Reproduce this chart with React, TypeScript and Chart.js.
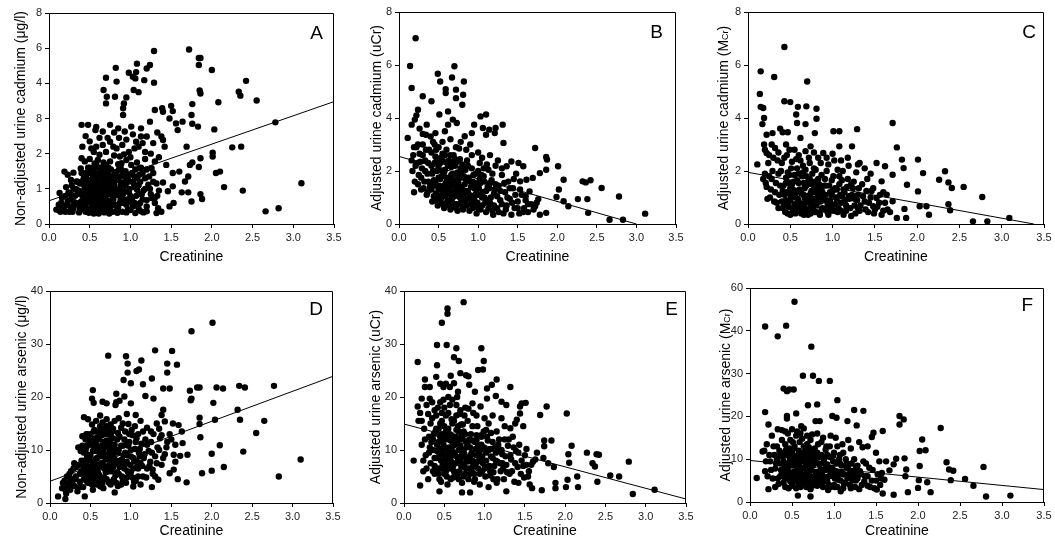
import React, { useEffect, useRef } from "react";
import { Chart, registerables } from "chart.js";
Chart.register(...registerables);

const FONT = '"Liberation Sans", Arial, Helvetica, sans-serif';

// ---------- shared axis data ----------
const xTickStep = 0.5;
const xMax = 3.5;
const xTitle = "Creatinine";

// y tick labels exactly as printed in the figure (evenly spaced positions)
const yLabelsA = ["0", "1", "2", "8", "4", "6", "8"];
const yLabelsF = ["0", "10", "20", "30", "40", "60"];

// ---------- panel A: non-adjusted urine cadmium (axis position units) ----------
const pointsA: number[][] = [
  [1.29,4.92],[1.72,4.96],[1.84,4.72],[1.86,4.72],[1.84,4.52],[2.0,4.38],[0.82,4.44],[1.08,4.56],[0.98,4.3],[1.07,4.32],
  [1.2,4.42],[1.24,4.52],[0.7,4.16],[0.83,4.05],[1.29,4.02],[1.17,4.09],[1.03,4.19],[1.06,4.14],[0.67,3.81],[0.71,3.62],
  [0.7,3.43],[0.81,3.62],[0.95,3.6],[0.92,3.43],[0.91,3.29],[0.91,3.1],[1.04,3.81],[1.1,3.75],[1.85,3.8],[1.86,3.71],
  [1.76,3.41],[2.08,3.46],[2.33,3.76],[2.35,3.65],[2.42,4.07],[2.55,3.51],[1.3,3.24],[1.39,3.29],[1.4,3.19],[1.5,3.36],
  [1.52,3.21],[1.48,3.0],[1.64,2.91],[1.56,2.86],[1.58,2.67],[1.75,3.1],[1.76,2.85],[1.83,2.77],[2.03,2.69],[2.78,2.89],
  [1.38,2.49],[1.4,2.39],[1.42,2.2],[1.69,2.2],[2.01,2.03],[2.01,1.92],[2.25,2.18],[2.36,2.2],[1.86,1.87],[1.76,1.75],
  [1.84,1.62],[2.05,1.45],[2.1,1.49],[2.15,1.05],[2.38,0.95],[1.86,0.85],[1.88,0.71],[2.66,0.36],[2.82,0.45],[3.1,1.16],
  [1.75,0.64],[1.71,0.9],[1.63,0.9],[1.53,0.6],[1.48,0.5],[1.34,0.45],[1.32,0.31],[1.2,0.36],[1.13,0.36],[1.71,1.35],
  [1.6,1.49],[1.52,1.45],[1.52,1.07],[1.46,0.93],[1.4,1.18],[1.44,1.68],[1.3,1.78],[1.26,1.59],[1.23,1.35],[1.22,1.12],
  [1.26,0.74],[1.67,1.21],[1.73,1.68],
  [0.4,2.82],[0.48,2.82],[0.57,2.67],[0.58,2.76],[0.75,2.82],[0.66,2.63],[0.85,2.72],[0.93,2.63],[1.01,2.77],[1.13,2.72],
  [1.24,2.91],[1.2,2.49],[1.13,2.49],[1.07,2.34],[1.1,2.2],[1.05,2.15],[0.75,2.34],[0.79,2.2],[0.83,2.15],[0.87,1.92],
  [0.89,1.73],[0.58,2.2],[0.52,2.15],[0.41,2.2],[0.4,1.87],[0.62,1.97],[0.7,1.68],[0.95,1.82],[1.01,1.68],[1.11,1.59],
  [1.15,1.45],[1.05,1.35],[0.97,1.26],[0.19,1.49],[0.3,1.46],[0.13,0.88],[0.09,0.41],[0.17,0.5],[0.34,1.21],[0.38,0.5],
  [0.12,0.4],[0.15,0.6],[0.18,0.45],[0.2,0.8],[0.22,0.55],[0.25,0.35],[0.27,0.7],[0.3,0.45],[0.3,1.0],[0.33,0.6],
  [0.35,0.85],[0.35,1.2],[0.38,0.4],[0.4,0.65],[0.4,1.45],[0.42,0.9],[0.43,1.1],[0.45,0.5],[0.45,0.35],[0.46,1.3],
  [0.47,0.75],[0.48,1.6],[0.5,0.95],[0.5,0.4],[0.52,1.15],[0.52,0.6],[0.54,1.4],[0.55,0.8],[0.55,0.3],[0.57,1.0],
  [0.58,1.7],[0.58,0.5],[0.6,1.25],[0.6,0.7],[0.62,0.35],[0.63,0.9],[0.64,1.5],[0.65,1.1],[0.66,0.55],[0.68,0.75],
  [0.7,1.3],[0.7,0.4],[0.72,0.95],[0.73,1.6],[0.75,0.6],[0.76,1.15],[0.78,0.35],[0.8,0.8],[0.8,1.4],[0.82,1.0],
  [0.85,0.5],[0.85,1.25],[0.88,0.7],[0.9,1.5],[0.9,0.35],[0.92,0.95],[0.95,0.55],[0.97,1.2],[1.0,0.8],[1.0,0.4],
  [1.02,1.45],[1.05,0.6],[1.05,1.05],[1.08,1.3],[1.1,0.45],[1.1,0.85],[1.13,1.6],[1.15,0.7],[1.18,1.0],[1.2,0.5],
  [1.25,0.85],[1.28,1.2],[1.3,0.6],[1.35,0.95],[1.38,0.35],
  [0.42,0.55],[0.44,1.0],[0.46,0.45],[0.48,1.25],[0.5,0.7],[0.51,1.5],[0.53,0.85],[0.55,1.05],[0.56,0.45],[0.57,1.35],
  [0.59,0.6],[0.61,0.95],[0.62,1.6],[0.63,0.4],[0.65,0.8],[0.67,1.2],[0.69,0.5],[0.71,1.05],[0.74,0.85],[0.77,1.3],
  [0.79,0.55],[0.83,0.95],[0.86,1.55],[0.89,0.8],[0.93,1.35],[0.96,0.7],[0.99,1.0],[1.03,0.5],[1.07,0.8],[1.12,1.2],
  [1.16,0.95],[0.36,0.55],[0.32,0.8],[0.28,1.1],[0.24,0.9],[0.2,0.35],[0.26,0.5]
];
const pointsADense: number[][] = [
  [0.37,0.33],[0.49,0.32],[0.61,0.3],[0.68,0.33],[0.74,0.3],[0.84,0.32],[0.95,0.33],[1.06,0.31],[1.16,0.33],
  [0.39,0.62],[0.44,0.7],[0.53,0.66],[0.6,0.62],[0.64,0.72],[0.71,0.68],[0.78,0.72],[0.87,0.6],[0.93,0.68],[1.01,0.62],
  [1.12,0.6],[1.2,0.68],[1.3,0.75],
  [0.37,0.95],[0.41,0.8],[0.47,0.92],[0.51,0.82],[0.56,0.92],[0.6,0.85],[0.66,0.95],[0.7,0.82],[0.77,0.98],[0.81,0.88],
  [0.87,0.98],[0.91,0.85],[0.98,0.9],[1.08,0.98],[1.14,0.85],[1.24,1.0],[1.33,0.8],
  [0.38,1.15],[0.42,1.25],[0.47,1.1],[0.53,1.28],[0.59,1.12],[0.63,1.3],[0.69,1.15],[0.74,1.25],[0.8,1.12],[0.84,1.35],
  [0.9,1.18],[0.95,1.3],[1.03,1.2],[1.1,1.1],[1.18,1.3],[1.32,1.15],
  [0.39,1.58],[0.45,1.45],[0.5,1.6],[0.56,1.48],[0.61,1.42],[0.66,1.62],[0.72,1.45],[0.76,1.55],[0.82,1.48],[0.88,1.6],
  [0.94,1.5],[1.06,1.55],[1.2,1.55],[1.28,1.45],
  [0.44,1.78],[0.5,1.85],[0.56,1.72],[0.6,1.82],[0.67,1.75],[0.75,1.78],[0.8,1.95],[0.85,1.7],[0.92,1.98],[1.0,1.9],
  [1.08,1.75],[1.18,1.85],[1.25,2.0],[1.35,1.9],
  [0.45,2.5],[0.5,2.35],[0.55,2.05],[0.62,2.45],[0.66,2.25],[0.7,2.05],[0.72,2.45],[0.8,2.6],[0.86,2.45],[0.9,2.25],
  [0.95,2.4],[0.98,2.05],[1.03,2.55],[1.15,2.3],[1.18,2.05],[1.28,2.3],[1.33,2.6],
  [0.14,0.35],[0.16,0.75],[0.21,1.05],[0.23,0.65],[0.26,0.85],[0.29,0.35],[0.31,0.62],[0.33,1.0],[0.27,1.25],[0.23,1.4],
  [0.12,0.55]
];
const pointsACore: number[][] = [
  [0.41,0.42],[0.43,1.35],[0.46,0.62],[0.49,1.05],[0.51,0.35],[0.54,0.72],[0.56,1.58],[0.58,0.88],[0.59,1.2],[0.62,0.5],
  [0.64,1.02],[0.66,1.38],[0.68,0.62],[0.71,0.9],[0.73,1.4],[0.75,0.45],[0.77,1.08],[0.79,0.7],[0.82,1.25],[0.84,0.45],
  [0.86,0.82],[0.88,1.1],[0.91,0.6],[0.94,1.1],[0.97,0.42],[0.99,1.4],[1.02,0.72],[1.04,1.15],[1.08,0.55],[1.11,1.4],
  [0.45,0.85],[0.53,0.48],[0.63,0.62],[0.72,0.35],[0.81,0.55],[0.57,0.78],[0.67,1.52],[0.76,0.98],[0.48,1.45],[0.87,1.35]
];
const lineA: number[][] = [[0, 0.66], [3.5, 3.48]];

// ---------- panel B: adjusted urine cadmium (uCr) ----------
const pointsB: number[][] = [
  [0.21,7.01],[0.14,5.96],[0.16,5.13],[0.3,4.82],[0.41,4.63],[0.49,5.67],[0.52,5.38],[0.59,5.09],[0.59,4.94],[0.7,5.95],
  [0.67,5.53],[0.72,5.07],[0.72,4.75],[0.82,5.38],[0.81,4.88],[0.8,4.5],[0.11,3.25],[0.16,3.75],[0.2,3.94],[0.24,4.31],
  [0.22,4.1],[0.35,3.75],[0.34,3.37],[0.46,3.43],[0.51,4.13],[0.62,4.25],[0.62,3.75],[0.68,3.94],[0.73,3.81],[0.83,3.31],
  [0.92,3.43],[0.95,3.75],[1.03,4.06],[1.1,4.13],[1.06,3.62],[1.14,3.56],[1.22,3.62],[1.31,3.75],[1.32,3.06],[1.1,3.37],
  [1.21,3.43],[1.72,2.87],[1.86,2.53],[1.87,2.43],[2.01,2.18],[2.08,1.67],[2.02,1.3],[1.86,2.05],[2.32,1.61],[2.36,1.57],
  [2.42,1.65],[2.56,1.36],[2.78,1.04],[3.11,0.39],[2.66,0.16],[2.83,0.16],[2.38,0.94],[2.39,0.42],[2.26,0.94],[2.14,0.67],
  [2.08,0.86],[1.99,1.02],[1.86,0.42],[1.76,0.94],[1.72,0.67],[1.78,0.35],[1.65,1.23],[1.78,1.92],[1.69,1.74],[1.57,2.18],
  [1.51,2.3],[1.42,2.36],[1.36,2.18],[1.61,1.67],[1.53,1.61],
  [0.17,2.0],[0.18,2.6],[0.2,1.6],[0.22,2.9],[0.23,2.3],[0.25,1.85],[0.26,2.65],[0.28,1.3],[0.29,2.1],[0.3,3.0],
  [0.32,1.6],[0.33,2.4],[0.35,1.1],[0.36,1.9],[0.38,2.8],[0.39,1.4],
  [0.41,2.2],[0.42,0.85],[0.43,3.1],[0.44,1.65],[0.46,2.55],[0.47,1.15],[0.48,2.0],[0.49,0.7],[0.5,2.9],[0.51,1.45],
  [0.52,2.3],[0.53,0.95],[0.54,1.8],[0.55,2.65],[0.56,1.2],[0.57,0.6],[0.58,2.05],[0.59,1.55],[0.6,2.8],[0.61,0.85],
  [0.62,1.35],[0.63,2.4],[0.64,1.75],[0.65,0.55],[0.66,2.15],[0.67,1.05],[0.68,1.6],[0.69,2.6],[0.7,0.75],[0.71,1.9],
  [0.72,1.3],[0.73,2.35],[0.74,0.5],[0.75,1.55],[0.76,2.85],[0.77,1.0],[0.78,2.1],[0.79,1.4],[0.8,0.65],
  [0.82,1.8],[0.84,0.9],[0.86,2.4],[0.87,1.25],[0.89,0.5],[0.9,1.6],[0.92,2.1],[0.94,0.75],[0.95,1.35],[0.97,1.9],
  [0.98,0.4],[1.0,1.1],[1.02,2.3],[1.03,1.55],[1.05,0.7],[1.07,1.8],[1.08,1.0],[1.1,0.45],[1.12,1.4],[1.13,2.05],
  [1.15,0.8],[1.17,1.65],[1.19,0.35],[1.2,1.15],[1.22,2.2],[1.24,0.6],[1.26,1.45],[1.28,0.9],[1.3,1.85],[1.32,0.4],
  [1.34,1.2],[1.36,0.7],[1.38,1.6],[1.4,0.95],[1.42,0.35],[1.44,1.35],[1.46,0.6],[1.48,1.9],[1.5,0.85],[1.52,0.4],
  [1.55,1.1],[1.58,0.6],[1.6,0.9],[1.63,0.45],[1.67,0.75]
];
const pointsBDense: number[][] = [
  [0.36,1.2],[0.37,2.3],[0.4,1.5],[0.41,2.7],[0.42,1.9],[0.44,1.05],[0.45,2.3],[0.46,1.6],[0.47,2.8],[0.48,0.9],
  [0.5,1.3],[0.5,2.15],[0.52,1.7],[0.53,2.5],[0.54,1.1],[0.55,2.0],[0.56,0.75],[0.57,1.45],[0.58,2.35],[0.6,1.15],
  [0.6,1.75],[0.62,2.2],[0.63,0.7],[0.64,1.35],[0.65,2.6],[0.66,1.85],[0.67,0.95],[0.68,2.35],[0.69,1.2],[0.7,1.65],
  [0.71,2.2],[0.72,0.6],[0.73,1.45],[0.74,1.95],[0.76,1.2],[0.77,2.45],[0.78,0.8],[0.79,1.75],[0.8,2.25],[0.81,1.05],
  [0.83,1.5],[0.84,2.05],[0.85,0.7],[0.86,1.2],[0.88,1.75],[0.89,0.95],[0.91,1.4],[0.92,2.6],[0.93,0.6],[0.94,1.85],
  [0.96,1.1],[0.97,1.55],[0.99,0.8],[1.0,2.0],[1.01,1.35],[1.03,0.55],[1.04,1.85],[1.06,1.2],[1.08,1.6],[1.09,0.8],
  [1.11,2.25],[1.13,0.6],[1.14,1.35],[1.16,1.0],[1.18,1.9],[1.2,0.7],[1.22,1.5],[1.24,1.05],[1.26,0.45],[1.28,1.25],
  [1.3,0.75],[1.33,1.55],[1.35,0.55],[1.37,1.0],[1.4,1.35],[1.43,0.8],[1.45,1.7],[1.47,1.1],[1.5,0.6],[1.53,1.3],
  [1.57,0.45],[1.6,1.05],[1.63,0.75],[1.7,0.55],[1.74,0.8],
  [0.19,1.2],[0.21,2.2],[0.24,1.5],[0.24,3.0],[0.27,2.35],[0.28,1.75],[0.3,2.6],[0.31,1.35],[0.33,2.0],[0.34,2.8],
  [0.37,1.6],[0.19,2.9],[0.16,2.4],[0.26,3.6],[0.3,3.4],[0.4,3.3],[0.45,3.0],[0.55,3.1],[0.58,3.5],[0.65,3.2],
  [0.72,2.9],[0.78,3.1],[0.85,2.8],[0.9,3.0],[1.0,2.7],[1.05,2.5],[1.15,2.6],[1.25,2.4],[1.3,2.1]
];
const pointsBCore: number[][] = [
  [0.41,1.3],[0.43,2.0],[0.45,1.45],[0.47,2.35],[0.49,1.0],[0.5,1.75],[0.52,0.85],[0.54,2.45],[0.55,1.35],[0.57,1.95],
  [0.59,1.05],[0.61,2.3],[0.62,1.6],[0.64,0.9],[0.66,1.45],[0.68,1.9],[0.7,1.05],[0.71,2.45],[0.73,0.75],[0.75,1.8],
  [0.77,1.35],[0.79,2.0],[0.81,0.55],[0.83,1.25],[0.85,1.65],[0.87,2.2],[0.89,1.1],[0.91,0.75],[0.93,1.6],[0.95,0.95],
  [0.98,1.25],[1.0,0.6],[1.02,1.7],[1.05,1.0],[1.07,2.1],[1.1,1.25],[1.12,0.9],[1.15,1.55],[1.18,0.5],[1.21,1.3],
  [0.58,2.6],[0.63,1.2],[0.74,1.6],[0.86,0.95]
];
const lineB: number[][] = [[0, 2.55], [3.0, 0]];

// ---------- panel C: adjusted urine cadmium (MCr) ----------
const pointsC: number[][] = [
  [0.43,6.68],[0.15,5.76],[0.31,5.55],[0.14,4.91],[0.15,4.42],[0.18,4.38],[0.19,4.0],[0.17,3.77],[0.43,4.63],[0.5,4.6],
  [0.7,5.38],[0.59,4.42],[0.57,4.13],[0.69,4.44],[0.81,4.35],[0.81,3.97],[0.38,3.6],[0.41,3.46],[0.47,3.46],[0.58,3.81],
  [0.68,3.77],[0.79,3.43],[0.29,3.43],[0.22,3.37],[0.19,3.0],[0.22,2.68],[0.32,2.87],[0.49,2.8],[0.74,2.93],[0.62,3.25],
  [1.01,3.5],[1.08,3.5],[1.08,2.93],[1.23,2.93],[1.29,3.58],[0.89,2.68],[1.71,3.81],[1.76,2.89],[1.82,2.43],[1.84,2.11],
  [2.01,2.43],[2.07,1.92],[2.26,1.67],[2.33,1.99],[2.37,1.57],[2.41,1.36],[2.55,1.4],[2.77,1.02],[3.09,0.23],[2.66,0.1],
  [2.83,0.1],[2.37,0.75],[2.39,0.52],[2.14,0.35],[2.03,0.67],[2.11,0.67],[1.87,0.23],[1.85,0.57],[1.71,0.86],[1.76,0.23],
  [1.64,1.11],[1.48,0.67],[1.52,0.98],[1.58,1.61],[1.52,2.3],[1.32,2.3],[1.71,1.86],[1.62,2.18],[1.88,1.48],[2.01,1.23],
  [0.11,2.25],
  [0.2,1.9],[0.22,1.4],[0.24,2.3],[0.26,1.0],[0.28,1.7],[0.3,2.5],[0.32,1.2],[0.34,0.8],[0.36,1.9],[0.38,1.45],
  [0.4,2.3],[0.41,0.6],[0.43,1.1],[0.45,1.75],[0.46,2.6],[0.48,0.85],[0.5,1.35],[0.51,2.1],[0.53,0.5],[0.54,1.6],
  [0.56,1.0],[0.57,2.45],[0.59,0.7],[0.6,1.9],[0.62,1.25],[0.63,0.4],[0.65,2.2],[0.66,1.55],[0.68,0.9],[0.69,1.8],
  [0.71,0.55],[0.72,2.5],[0.74,1.15],[0.75,1.5],[0.77,0.75],[0.78,2.1],[0.8,1.3],[0.81,0.45],[0.83,1.7],[0.85,1.0],
  [0.86,2.3],[0.88,0.6],[0.9,1.45],[0.92,0.9],[0.93,2.0],[0.95,0.35],[0.97,1.2],[0.99,1.65],[1.0,0.7],[1.02,2.4],
  [1.04,1.0],[1.06,0.45],[1.08,1.5],[1.1,0.8],[1.12,2.0],[1.14,1.2],[1.16,0.5],[1.18,1.7],[1.2,0.95],[1.22,0.3],
  [1.24,1.35],[1.26,0.7],[1.28,1.95],[1.3,1.1],[1.32,0.5],[1.35,1.5],[1.38,0.85],[1.4,1.25],[1.42,0.45],[1.45,1.0],
  [1.48,1.35],[1.5,0.55],[1.55,0.8],[1.58,0.35],[1.6,1.2],[1.65,0.55],
  [0.45,0.9],[0.52,1.2],[0.6,0.55],[0.66,1.1],[0.73,0.85],[0.79,1.6],[0.87,1.25],[0.94,0.65],[1.03,1.35],[1.11,1.05]
];
const pointsCDense: number[][] = [
  [0.36,0.6],[0.37,1.1],[0.39,2.0],[0.4,0.85],[0.42,1.45],[0.43,2.5],[0.44,0.45],[0.46,1.2],[0.47,1.95],[0.48,0.65],
  [0.49,1.55],[0.5,0.35],[0.51,1.0],[0.52,2.35],[0.53,1.3],[0.55,0.75],[0.55,1.85],[0.56,0.4],[0.57,1.25],[0.58,2.1],
  [0.59,0.95],[0.6,1.55],[0.61,0.6],[0.62,2.4],[0.63,1.15],[0.64,1.8],[0.65,0.75],[0.66,0.35],[0.67,1.35],[0.68,2.05],
  [0.69,0.55],[0.7,1.05],[0.71,1.6],[0.72,0.8],[0.73,2.3],[0.74,0.4],[0.75,1.25],[0.76,1.9],[0.77,0.55],[0.78,1.45],
  [0.79,0.95],[0.8,2.05],[0.81,0.7],[0.82,1.15],[0.84,1.5],[0.85,0.35],[0.86,0.85],[0.87,1.85],[0.88,1.2],[0.9,0.55],
  [0.91,1.7],[0.92,1.1],[0.94,0.8],[0.95,2.25],[0.96,1.45],[0.98,0.5],[0.99,1.1],[1.01,1.8],[1.03,0.75],[1.05,1.3],
  [1.06,2.05],[1.07,0.6],[1.09,1.1],[1.11,1.65],[1.13,0.35],[1.15,0.9],[1.17,1.4],[1.19,2.2],[1.21,0.6],[1.23,1.1],
  [1.25,1.6],[1.27,0.4],[1.29,0.9],[1.31,1.35],[1.33,0.7],[1.36,1.05],[1.39,0.55],[1.41,1.7],[1.43,0.8],[1.46,1.25],
  [1.49,0.4],[1.53,0.65],[1.56,1.1],[1.6,0.5],[1.62,0.8],[1.68,0.45],
  [0.21,1.55],[0.23,0.95],[0.25,2.6],[0.27,1.3],[0.29,2.0],[0.31,0.85],[0.33,1.55],[0.35,2.4],[0.25,1.8],[0.18,1.7],
  [0.2,2.8],[0.28,3.0],[0.36,2.7],[0.45,3.0],[0.55,2.8],[0.6,2.6],[0.68,2.75],[0.78,2.7],[0.83,2.5],[0.93,2.5],
  [1.0,2.65],[1.1,2.4],[1.18,2.5],[1.3,2.25],[1.38,2.1],[1.45,1.9]
];
const pointsCCore: number[][] = [
  [0.41,1.25],[0.43,0.75],[0.45,1.55],[0.47,0.4],[0.49,1.85],[0.5,0.9],[0.52,1.5],[0.54,0.6],[0.56,1.15],[0.58,1.65],
  [0.6,0.85],[0.61,1.3],[0.63,0.55],[0.65,1.95],[0.67,1.0],[0.69,1.45],[0.71,0.35],[0.73,1.7],[0.75,0.95],[0.77,1.2],
  [0.79,0.45],[0.81,1.55],[0.83,0.85],[0.85,1.3],[0.87,0.55],[0.89,1.0],[0.92,1.45],[0.94,0.45],[0.97,0.9],[1.0,1.25],
  [1.02,0.5],[1.05,0.95],[1.08,1.8],[1.1,0.5],[1.13,1.3],[1.16,0.7],[1.19,1.05],[1.22,1.5],[1.26,0.95],[1.3,0.6],
  [0.48,1.15],[0.57,0.45],[0.66,0.7],[0.74,0.6],[0.84,1.1]
];
const lineC: number[][] = [[0, 1.95], [3.38, 0]];

// ---------- panel D: non-adjusted urine arsenic ----------
const pointsD: number[][] = [
  [2.01,34.0],[1.75,32.4],[1.3,28.8],[1.51,28.7],[0.72,27.8],[0.94,27.7],[0.96,26.3],[1.13,26.9],[1.45,26.3],[1.57,26.1],
  [1.45,24.6],[1.07,24.9],[1.1,25.2],[0.96,24.6],[0.91,23.2],[1.26,23.5],[1.15,22.4],[1.0,22.6],[0.82,20.6],[0.53,21.3],
  [0.82,19.0],[0.81,18.5],[0.86,19.3],[0.7,18.8],[0.65,19.1],[0.52,19.7],[0.54,18.9],[0.92,20.1],[1.0,18.8],[1.18,20.2],
  [1.28,19.7],[1.48,21.6],[1.4,21.6],[1.73,21.2],[1.75,19.7],[1.74,19.4],[1.82,21.8],[1.85,21.8],[2.06,21.8],[2.14,21.6],
  [2.34,22.1],[2.41,21.8],[2.77,22.1],[2.32,17.6],[2.35,15.7],[2.65,15.5],[2.55,13.2],[2.02,18.9],[2.04,15.7],[1.85,16.1],
  [1.85,14.9],[1.86,12.4],[2.1,10.9],[2.0,9.3],[2.39,9.7],[2.15,6.8],[2.0,6.1],[1.88,5.6],[1.69,3.9],[2.83,5.0],
  [3.1,8.2],[1.7,9.1],[1.61,8.9],[1.53,9.1],[1.55,7.8],[1.48,5.6],[1.53,6.3],[1.58,4.5],[1.64,11.3],[1.63,13.5],
  [1.59,14.7],[1.52,15.0],[1.42,15.4],[1.32,15.0],[1.4,17.6],[1.38,16.6],[1.06,16.6],[0.97,14.9],[1.27,6.3],[1.26,3.0],
  [1.34,4.4],[1.03,3.1],[0.8,2.0],[0.63,3.1],[0.43,1.25],[0.1,1.25],[0.19,0.75],[0.42,16.2],[0.47,15.8],
  [0.15,2.8],[0.18,4.2],[0.2,1.8],[0.22,3.5],[0.24,5.5],[0.25,2.5],[0.27,4.5],[0.29,6.5],[0.3,3.2],[0.32,5.0],
  [0.34,2.2],[0.35,7.2],[0.37,4.0],[0.38,9.8],[0.39,6.0],[0.4,12.6],
  [0.41,3.0],[0.42,8.0],[0.43,5.5],[0.45,10.5],[0.46,7.0],[0.47,3.8],[0.48,12.0],[0.49,6.2],[0.5,9.0],[0.51,4.5],
  [0.52,11.2],[0.53,2.5],[0.54,7.8],[0.55,13.8],[0.56,5.2],[0.57,9.8],[0.58,3.5],[0.59,12.5],[0.6,6.8],[0.61,8.8],
  [0.62,14.5],[0.63,4.8],[0.64,10.8],[0.65,7.5],[0.66,2.8],[0.67,13.0],[0.68,9.2],[0.69,5.8],[0.7,11.8],[0.71,14.2],
  [0.72,7.0],[0.73,3.8],[0.74,10.0],[0.75,12.8],[0.76,6.0],[0.77,8.5],[0.78,14.0],[0.79,4.5],[0.8,11.0],
  [0.82,7.5],[0.84,9.5],[0.85,5.5],[0.86,12.5],[0.88,3.5],[0.89,8.2],[0.9,10.8],[0.92,6.5],[0.93,13.5],[0.95,4.8],
  [0.96,9.0],[0.98,11.5],[0.99,7.2],[1.0,5.8],[1.02,12.8],[1.03,8.5],[1.05,10.2],[1.06,4.2],[1.08,6.8],[1.09,13.0],
  [1.1,9.5],[1.12,7.5],[1.13,11.2],[1.15,5.0],[1.16,8.5],[1.18,12.0],[1.2,6.5],[1.22,9.8],[1.24,7.8],[1.25,11.5],
  [1.27,5.5],[1.3,8.8],[1.33,10.5],[1.36,12.2],[1.45,11.5],[1.42,9.2],[1.38,7.2],[1.48,13.0],
  [0.44,6.5],[0.5,5.5],[0.55,10.8],[0.6,3.8],[0.66,9.8],[0.7,6.5],[0.74,13.5],[0.78,9.0],[0.58,7.2],[0.86,6.8]
];
const pointsDDense: number[][] = [
  [0.41,5.5],[0.42,9.5],[0.43,7.2],[0.44,12.0],[0.45,4.2],[0.46,8.8],[0.47,11.0],[0.48,5.0],[0.49,8.0],[0.5,13.0],
  [0.51,6.8],[0.52,3.5],[0.53,9.8],[0.54,5.8],[0.55,12.2],[0.56,8.2],[0.57,4.0],[0.58,10.8],[0.59,6.0],[0.6,13.5],
  [0.61,5.2],[0.62,9.5],[0.63,7.5],[0.64,12.8],[0.65,3.8],[0.66,11.5],[0.67,6.5],[0.68,14.0],[0.69,8.2],[0.7,4.5],
  [0.71,10.5],[0.72,13.0],[0.73,6.0],[0.74,8.0],[0.75,11.0],[0.76,4.0],[0.77,13.5],[0.78,6.8],[0.79,10.2],[0.8,8.2],
  [0.81,5.2],[0.83,12.0],[0.84,3.2],[0.85,10.0],[0.87,7.0],[0.88,14.2],[0.89,5.0],[0.91,9.0],[0.92,12.0],[0.94,3.8],
  [0.95,7.8],[0.97,10.8],[0.98,5.2],[1.0,8.8],[1.01,13.8],[1.03,6.5],[1.04,4.0],[1.06,11.5],[1.07,8.0],[1.09,5.0],
  [1.11,10.2],[1.12,3.5],[1.14,7.0],[1.15,13.5],[1.17,9.2],[1.19,4.8],[1.2,11.0],[1.23,7.0],[1.26,9.5],[1.28,13.0],
  [1.3,5.0],[1.32,7.5],[1.35,10.0],[1.38,12.8],[1.4,8.5],[1.44,10.5],
  [0.16,3.8],[0.19,2.5],[0.21,5.0],[0.23,3.0],[0.26,6.0],[0.28,3.5],[0.31,4.5],[0.33,6.8],[0.36,3.0],[0.37,5.5],
  [0.39,8.0],[0.3,7.5],[0.35,10.5],[0.4,10.8],[0.25,4.0],[0.2,2.8],
  [0.46,13.0],[0.52,14.8],[0.57,15.5],[0.62,16.5],[0.65,15.2],[0.7,15.8],[0.75,14.8],[0.8,15.5],[0.85,16.0],[0.9,15.0],
  [0.95,16.8],[1.05,14.5],[1.12,15.5],[1.2,14.2],[1.25,13.5],[1.35,14.0],[1.5,12.0],[1.55,11.0]
];
const pointsDCore: number[][] = [
  [0.41,7.0],[0.42,4.5],[0.44,9.8],[0.45,13.0],[0.47,6.0],[0.48,9.0],[0.5,3.8],[0.51,11.0],[0.53,7.2],[0.54,13.5],
  [0.56,4.5],[0.57,11.8],[0.58,8.5],[0.6,5.5],[0.61,12.0],[0.62,3.2],[0.63,10.2],[0.65,13.8],[0.66,7.0],[0.67,4.8],
  [0.69,11.0],[0.7,14.5],[0.71,6.0],[0.72,9.0],[0.74,11.8],[0.75,3.5],[0.76,9.5],[0.78,12.2],[0.79,7.5],[0.81,10.0],
  [0.83,5.8],[0.84,13.2],[0.86,8.0],[0.88,10.8],[0.9,4.2],[0.92,7.5],[0.94,11.0],[0.96,6.0],[0.98,13.0],[1.0,10.0],
  [1.02,4.8],[1.04,7.8],[1.07,12.2],[1.09,6.5],[1.11,8.8],[0.55,6.2],[0.64,8.8],[0.73,13.0],[0.82,3.8],[0.93,9.5]
];
const lineD: number[][] = [[0, 4.1], [3.5, 23.9]];

// ---------- panel E: adjusted urine arsenic (uCr) ----------
const pointsE: number[][] = [
  [0.74,37.9],[0.54,36.7],[0.54,35.7],[0.47,34.0],[0.53,29.8],[0.41,29.8],[0.65,29.2],[0.96,29.2],[0.62,27.5],[0.68,26.8],
  [0.99,26.8],[0.92,25.1],[0.98,25.2],[0.41,26.0],[0.17,26.6],[0.4,23.8],[0.26,23.3],[0.26,21.9],[0.32,21.9],[0.49,21.9],
  [0.57,21.9],[0.62,22.6],[0.77,24.1],[0.8,23.9],[0.81,22.3],[1.09,22.3],[1.15,23.3],[1.32,21.9],[1.03,21.6],[0.22,19.7],
  [0.32,19.7],[0.17,18.2],[1.14,20.2],[1.21,19.1],[1.03,19.7],[1.27,18.5],[1.46,18.8],[1.51,18.9],[1.44,18.2],[1.44,16.9],
  [1.69,16.6],[1.77,18.2],[2.02,16.9],[1.4,15.7],[1.38,15.0],[1.48,14.5],[1.21,16.0],[1.32,14.1],[1.74,11.8],[1.74,10.7],
  [1.83,11.8],[2.08,10.8],[2.27,9.5],[2.39,9.2],[2.42,9.1],[2.34,7.5],[2.37,6.9],[2.04,9.2],[2.05,7.6],[2.15,5.0],
  [2.03,4.4],[2.01,3.0],[2.16,3.0],[2.4,4.0],[2.67,5.0],[2.56,5.2],[2.79,7.8],[3.11,2.5],[2.84,1.7],[1.88,3.8],
  [1.88,2.8],[1.71,2.4],[1.59,2.8],[1.86,6.8],[1.79,7.5],[1.73,8.5],[1.65,9.5],[1.63,8.2],[1.52,7.2],[1.55,6.0],
  [1.42,3.8],[1.27,2.2],[0.44,2.2],[0.72,2.0],[0.82,2.0],[0.12,8.0],[0.2,3.3],[0.18,15.5],[0.2,17.0],
  [0.22,11.0],[0.24,6.0],[0.25,14.0],[0.27,9.0],[0.28,18.5],[0.3,4.5],[0.31,12.5],[0.33,7.5],[0.35,16.0],[0.36,10.0],
  [0.38,5.5],[0.39,13.5],
  [0.41,8.5],[0.42,18.0],[0.43,11.5],[0.44,4.5],[0.45,15.0],[0.46,6.5],[0.47,13.0],[0.48,9.5],[0.49,19.5],[0.5,5.5],
  [0.51,12.0],[0.52,16.5],[0.53,8.0],[0.54,3.5],[0.55,14.0],[0.56,10.5],[0.57,18.5],[0.58,6.5],[0.59,12.8],[0.6,9.0],
  [0.61,4.8],[0.62,15.5],[0.63,11.0],[0.64,7.5],[0.65,13.8],[0.66,20.0],[0.67,5.5],[0.68,10.0],[0.69,16.8],[0.7,8.5],
  [0.71,12.5],[0.72,3.8],[0.73,14.8],[0.74,9.8],[0.75,6.8],[0.76,18.0],[0.77,11.5],[0.78,7.8],[0.79,15.5],[0.8,4.5],
  [0.82,10.5],[0.83,13.0],[0.85,8.0],[0.86,17.0],[0.87,5.5],[0.88,11.5],[0.9,9.0],[0.91,14.5],[0.92,6.5],[0.94,3.5],
  [0.95,10.0],[0.96,12.5],[0.98,7.5],[1.0,16.0],[1.01,5.0],[1.02,9.5],[1.04,11.8],[1.05,3.0],[1.06,7.0],[1.08,13.2],
  [1.1,8.5],[1.11,5.8],[1.13,10.5],[1.15,3.8],[1.16,7.8],[1.18,12.0],[1.2,6.0],[1.22,9.2],[1.24,4.5],[1.25,14.5],
  [1.27,7.2],[1.29,10.8],[1.31,5.5],[1.33,8.2],[1.35,12.5],[1.37,4.0],[1.39,9.8],[1.41,6.8],[1.43,11.0],[1.46,8.0],
  [1.49,4.8],[1.52,10.2],[1.56,3.5],[1.6,7.8],
  [0.45,10.2],[0.52,7.0],[0.58,11.8],[0.63,5.8],[0.7,10.8],[0.76,8.8],[0.84,6.2],[0.9,11.8],[0.97,8.8],[1.07,6.0]
];
const pointsEDense: number[][] = [
  [0.31,9.5],[0.33,15.0],[0.34,11.5],[0.36,6.0],[0.37,13.0],[0.38,8.5],[0.4,16.5],[0.41,11.0],[0.42,6.5],[0.43,14.0],
  [0.44,9.0],[0.45,12.5],[0.46,4.0],[0.47,17.0],[0.48,7.2],[0.49,11.0],[0.5,14.5],[0.51,8.8],[0.52,6.0],[0.53,12.8],
  [0.54,10.0],[0.55,17.0],[0.56,7.5],[0.57,13.0],[0.58,4.5],[0.59,10.0],[0.6,15.0],[0.61,7.0],[0.62,12.0],[0.63,9.5],
  [0.64,5.0],[0.65,16.5],[0.66,11.5],[0.67,8.0],[0.68,13.5],[0.69,6.0],[0.7,10.5],[0.71,14.8],[0.72,7.5],[0.73,12.0],
  [0.74,5.0],[0.75,9.2],[0.76,13.0],[0.77,6.5],[0.78,10.5],[0.8,8.2],[0.81,12.0],[0.82,5.5],[0.84,9.5],[0.85,14.5],
  [0.86,7.0],[0.88,4.5],[0.89,10.2],[0.9,12.8],[0.91,7.8],[0.93,9.5],[0.94,5.5],[0.96,11.0],[0.97,8.2],[0.99,13.5],
  [1.0,6.5],[1.02,8.0],[1.03,12.5],[1.05,10.0],[1.07,5.2],[1.08,8.8],[1.1,11.5],[1.12,7.0],[1.14,9.5],[1.16,4.5],
  [1.17,11.0],[1.19,7.5],[1.21,10.0],[1.23,6.5],[1.26,8.8],[1.28,5.8],[1.3,12.0],[1.32,9.0],[1.34,6.0],[1.36,10.5],
  [1.38,7.5],[1.42,9.5],[1.45,5.5],[1.48,7.0],[1.5,9.0],[1.54,5.0],[1.58,7.2],
  [0.22,15.5],[0.24,8.0],[0.26,12.0],[0.28,6.5],[0.3,16.8],[0.32,10.5],[0.35,19.0],[0.38,17.5],[0.45,19.0],[0.5,18.0],
  [0.55,20.0],[0.6,19.5],[0.65,18.5],[0.7,17.5],[0.75,16.5],[0.8,17.8],[0.85,18.8],[0.9,16.5],[0.95,18.2],[1.05,15.0],
  [1.1,16.5],[1.15,13.5],[1.25,12.0],[0.45,22.5],[0.52,22.5],[0.58,24.0],[0.67,21.0],[0.7,24.5],[0.88,21.0]
];
const pointsECore: number[][] = [
  [0.36,12.0],[0.38,7.0],[0.4,14.0],[0.41,9.8],[0.43,5.5],[0.44,12.8],[0.46,8.0],[0.47,15.5],[0.49,6.5],[0.5,10.5],
  [0.52,13.5],[0.53,5.0],[0.55,9.0],[0.56,12.0],[0.58,8.0],[0.59,15.8],[0.61,10.8],[0.62,6.0],[0.64,12.5],[0.65,8.8],
  [0.67,14.5],[0.68,4.5],[0.7,12.0],[0.71,7.0],[0.73,10.0],[0.74,13.5],[0.76,5.5],[0.77,8.5],[0.79,11.0],[0.81,6.5],
  [0.83,9.0],[0.85,11.8],[0.87,4.0],[0.89,7.5],[0.92,10.8],[0.94,8.5],[0.97,6.0],[0.99,10.5],[1.02,13.8],[1.04,6.8],
  [1.08,10.2],[1.11,4.5],[1.14,8.0],[1.18,9.8],[1.22,7.5],[0.48,12.0],[0.6,11.5],[0.72,9.0],[0.84,7.8],[0.96,12.8]
];
const lineE: number[][] = [[0, 14.9], [3.5, 0.75]];

// ---------- panel F: adjusted urine arsenic (MCr) (axis position units) ----------
const pointsF: number[][] = [
  [0.53,46.8],[0.18,41.0],[0.33,38.7],[0.43,41.2],[0.73,36.3],[0.63,29.5],[0.75,29.5],[0.95,28.3],[0.82,28.3],[0.4,26.5],
  [0.44,25.9],[0.47,26.3],[0.52,26.3],[0.69,22.6],[0.8,22.8],[1.04,23.8],[1.24,21.5],[0.18,21.0],[0.55,20.7],[0.44,20.1],
  [0.44,19.5],[0.98,20.1],[1.03,19.7],[0.78,18.9],[0.83,18.9],[1.16,18.9],[0.22,18.1],[0.33,17.0],[0.61,17.7],[1.27,17.9],
  [1.47,16.2],[1.58,16.6],[1.78,20.1],[1.78,18.1],[1.83,19.3],[2.27,17.3],[2.05,14.6],[2.09,12.1],[2.02,11.9],[2.34,9.3],
  [2.37,7.6],[2.42,7.3],[2.39,5.1],[2.56,5.4],[2.66,3.8],[2.78,8.2],[2.81,1.3],[3.1,1.5],[2.15,2.3],[2.0,3.3],
  [2.02,8.4],[2.01,5.1],[2.11,4.6],[1.88,2.3],[1.85,6.0],[1.86,7.6],[1.84,10.2],[1.74,10.1],[1.71,8.8],[1.66,7.4],
  [1.6,5.2],[1.71,1.7],[1.58,2.0],[1.51,2.9],[1.62,9.5],[1.54,9.5],[0.57,1.5],[0.72,1.3],[0.08,5.6],[1.35,21.3],
  [1.45,15.2],
  [0.15,11.8],[0.18,7.2],[0.2,13.5],[0.22,3.0],[0.24,9.5],[0.26,15.5],[0.27,5.5],[0.29,11.0],[0.3,7.8],[0.32,13.0],
  [0.34,4.2],[0.36,9.0],[0.38,14.5],[0.39,6.0],
  [0.41,11.5],[0.42,3.5],[0.43,8.5],[0.45,16.0],[0.46,5.5],[0.47,12.5],[0.48,9.8],[0.5,3.8],[0.51,14.0],[0.52,7.0],
  [0.53,10.8],[0.55,5.0],[0.56,16.5],[0.57,8.2],[0.58,12.0],[0.6,3.5],[0.61,9.5],[0.62,14.8],[0.63,6.2],[0.65,11.2],
  [0.66,4.2],[0.67,8.8],[0.68,13.5],[0.7,7.0],[0.71,10.2],[0.72,3.0],[0.74,15.8],[0.75,5.5],[0.76,9.0],[0.77,12.5],
  [0.79,6.5],[0.8,3.8],
  [0.82,10.5],[0.84,7.5],[0.85,14.0],[0.86,4.5],[0.88,9.2],[0.9,12.2],[0.91,5.8],[0.93,2.8],[0.94,8.0],[0.96,15.5],
  [0.97,6.2],[0.99,10.8],[1.0,4.0],[1.02,7.2],[1.04,13.0],[1.05,5.2],[1.07,9.0],[1.08,2.5],[1.1,6.5],[1.11,11.5],
  [1.13,4.5],[1.15,8.0],[1.17,14.5],[1.18,5.8],[1.2,3.2],[1.22,7.2],[1.24,10.0],[1.26,5.0],[1.28,8.5],[1.3,3.0],
  [1.32,6.5],[1.34,12.8],[1.36,4.8],[1.38,9.0],[1.4,6.0],[1.43,3.5],[1.46,7.5],[1.5,5.0],[1.55,4.0],[1.57,6.8],
  [0.45,9.0],[0.5,6.2],[0.55,8.5],[0.6,10.5],[0.64,5.2],[0.7,9.2],[0.78,11.0],[0.84,5.8],[0.92,8.8],[1.0,6.0]
];
const pointsFDense: number[][] = [
  [0.31,9.0],[0.33,5.5],[0.35,12.0],[0.37,7.5],[0.39,10.5],[0.4,4.5],[0.41,8.0],[0.42,13.5],[0.44,6.5],[0.45,11.0],
  [0.46,3.2],[0.47,9.0],[0.48,14.5],[0.49,6.8],[0.5,11.8],[0.51,4.5],[0.52,9.5],[0.53,13.0],[0.54,7.2],[0.55,3.2],
  [0.56,10.5],[0.57,5.8],[0.58,8.8],[0.59,14.0],[0.6,7.0],[0.61,4.5],[0.62,11.5],[0.63,8.0],[0.64,13.0],[0.65,6.5],
  [0.66,9.5],[0.67,3.5],[0.68,11.0],[0.69,5.5],[0.7,12.8],[0.71,8.0],[0.72,6.0],[0.73,10.5],[0.74,3.8],[0.75,8.5],
  [0.76,12.0],[0.77,5.0],[0.78,9.5],[0.8,7.0],[0.81,13.5],[0.82,4.5],[0.83,8.8],[0.85,11.0],[0.86,6.5],[0.87,3.5],
  [0.88,10.0],[0.9,7.5],[0.91,13.0],[0.92,4.8],[0.94,6.0],[0.95,10.5],[0.96,3.5],[0.98,8.0],[1.0,11.5],[1.01,5.5],
  [1.03,9.0],[1.04,3.5],[1.05,7.0],[1.07,11.0],[1.08,5.0],[1.09,8.5],[1.11,3.2],[1.12,6.5],[1.14,10.0],[1.16,5.5],
  [1.17,7.8],[1.19,4.0],[1.21,9.0],[1.23,6.0],[1.25,3.5],[1.26,8.0],[1.28,5.5],[1.31,7.2],[1.33,4.0],[1.35,9.5],
  [1.37,6.0],[1.4,3.8],[1.42,8.0],[1.45,5.0],[1.48,3.2],[1.52,6.5],[1.56,5.5],
  [0.17,12.0],[0.19,9.5],[0.21,6.0],[0.23,11.0],[0.25,7.5],[0.28,13.0],[0.3,3.5],[0.32,10.0],[0.36,6.0],[0.38,16.8],
  [0.42,16.5],[0.5,17.0],[0.55,15.5],[0.6,16.0],[0.64,17.2],[0.68,15.5],[0.72,14.5],[0.8,16.0],[0.87,15.0],[0.95,13.0],
  [1.02,15.0],[1.1,13.5],[1.2,12.5],[1.3,14.0],[1.4,13.0],[1.5,11.5]
];
const pointsFCore: number[][] = [
  [0.36,11.0],[0.38,7.0],[0.4,9.5],[0.42,5.5],[0.43,12.2],[0.45,7.5],[0.47,10.5],[0.48,4.8],[0.5,8.5],[0.52,12.5],
  [0.53,5.8],[0.55,10.0],[0.56,7.0],[0.58,4.0],[0.59,11.0],[0.61,8.0],[0.62,5.5],[0.64,9.8],[0.66,12.0],[0.67,6.0],
  [0.69,8.5],[0.7,4.5],[0.72,11.5],[0.73,7.5],[0.75,10.0],[0.77,4.5],[0.78,7.0],[0.8,11.5],[0.82,9.0],[0.84,6.0],
  [0.86,10.5],[0.88,5.0],[0.9,8.5],[0.92,11.0],[0.94,4.0],[0.96,7.0],[0.99,9.5],[1.01,3.5],[1.04,6.0],[1.06,10.0],
  [1.09,7.0],[1.12,4.2],[1.15,9.0],[1.18,6.5],[1.22,5.0],[1.27,6.8],[0.46,6.2],[0.57,9.2],[0.68,7.2],[0.79,5.5]
];
const lineF: number[][] = [[0, 9.7], [3.5, 2.9]];

// ---------- panel definitions ----------
type Seg = { t: string; size: number };
type Panel = {
  letter: string;
  points: number[][];
  line: number[][];
  yMax: number;
  yStep: number;
  yLabels: string[] | null;
  yTitle: Seg[];
  cell: { left: number; top: number; width: number; height: number };
  yW: number; padT: number; padR: number; xH: number;
  yTitleX: number; xTitleY: number; letterDx: number; letterDy: number;
};

const T = 14;
const panels: Panel[] = [
  { letter: "A", points: pointsA.concat(pointsADense, pointsACore), line: lineA, yMax: 6, yStep: 1, yLabels: yLabelsA,
    yTitle: [{ t: "Non-adjusted urine cadmium (\u03bcg/l)", size: T }],
    cell: { left: 0, top: 0, width: 350, height: 270 }, yW: 49, padT: 13, padR: 16, xH: 46,
    yTitleX: 20, xTitleY: 257, letterDx: 11, letterDy: 11 },
  { letter: "B", points: pointsB.concat(pointsBDense, pointsBCore), line: lineB, yMax: 8, yStep: 2, yLabels: null,
    yTitle: [{ t: "Adjusted urine cadmium (uCr)", size: T }],
    cell: { left: 350, top: 0, width: 350, height: 270 }, yW: 49, padT: 12, padR: 24, xH: 46,
    yTitleX: 26, xTitleY: 257, letterDx: 13, letterDy: 11 },
  { letter: "C", points: pointsC.concat(pointsCDense, pointsCCore), line: lineC, yMax: 8, yStep: 2, yLabels: null,
    yTitle: [{ t: "Adjusted urine cadmium (M", size: T }, { t: "Cr", size: 9 }, { t: ")", size: T }],
    cell: { left: 700, top: 0, width: 355, height: 270 }, yW: 48, padT: 12, padR: 11, xH: 46,
    yTitleX: 23, xTitleY: 257, letterDx: 8, letterDy: 11 },
  { letter: "D", points: pointsD.concat(pointsDDense, pointsDCore), line: lineD, yMax: 40, yStep: 10, yLabels: null,
    yTitle: [{ t: "Non-adjusted urine arsenic (\u03bcg/l)", size: T }],
    cell: { left: 0, top: 270, width: 350, height: 276 }, yW: 50, padT: 21, padR: 17, xH: 43,
    yTitleX: 21, xTitleY: 261, letterDx: 10, letterDy: 9 },
  { letter: "E", points: pointsE.concat(pointsEDense, pointsECore), line: lineE, yMax: 40, yStep: 10, yLabels: null,
    yTitle: [{ t: "Adjusted urine arsenic (uCr)", size: T }],
    cell: { left: 350, top: 270, width: 350, height: 276 }, yW: 54, padT: 21, padR: 14, xH: 43,
    yTitleX: 25, xTitleY: 261, letterDx: 8, letterDy: 9 },
  { letter: "F", points: pointsF.concat(pointsFDense, pointsFCore), line: lineF, yMax: 50, yStep: 10, yLabels: yLabelsF,
    yTitle: [{ t: "Adjusted urine arsenic (M", size: T }, { t: "Cr", size: 9 }, { t: ")", size: T }],
    cell: { left: 700, top: 270, width: 355, height: 276 }, yW: 50, padT: 18, padR: 11, xH: 44,
    yTitleX: 25, xTitleY: 261, letterDx: 11, letterDy: 8 },
];

function makeDecor(p: Panel) {
  return {
    id: "decor" + p.letter,
    afterDraw(chart: any) {
      const ctx: CanvasRenderingContext2D = chart.ctx;
      const a = chart.chartArea;
      ctx.save();
      ctx.strokeStyle = "#000";
      ctx.lineWidth = 1;
      ctx.beginPath();
      const tY = Math.round(a.top) + 0.5;
      const rX = Math.round(a.right) - 0.5;
      ctx.moveTo(Math.round(a.left), tY);
      ctx.lineTo(rX, tY);
      ctx.lineTo(rX, Math.round(a.bottom));
      ctx.stroke();
      ctx.fillStyle = "#000";
      ctx.font = `19px ${FONT}`;
      ctx.textAlign = "right";
      ctx.textBaseline = "top";
      ctx.fillText(p.letter, a.right - p.letterDx, a.top + p.letterDy);
      ctx.font = `${T}px ${FONT}`;
      ctx.textAlign = "center";
      ctx.textBaseline = "middle";
      ctx.fillText(xTitle, (a.left + a.right) / 2, p.xTitleY);
      ctx.translate(p.yTitleX, (a.top + a.bottom) / 2);
      ctx.rotate(-Math.PI / 2);
      ctx.textAlign = "left";
      ctx.textBaseline = "alphabetic";
      let total = 0;
      for (const s of p.yTitle) {
        ctx.font = `${s.size}px ${FONT}`;
        total += ctx.measureText(s.t).width;
      }
      let x = -total / 2;
      for (const s of p.yTitle) {
        ctx.font = `${s.size}px ${FONT}`;
        ctx.fillText(s.t, x, 5);
        x += ctx.measureText(s.t).width;
      }
      ctx.restore();
    },
  };
}

function PanelChart({ p }: { p: Panel }) {
  const ref = useRef<HTMLCanvasElement | null>(null);
  useEffect(() => {
    if (!ref.current) return;
    const chart = new Chart(ref.current, {
      type: "scatter",
      data: {
        datasets: [
          {
            data: p.points.map(([x, y]) => ({ x, y })),
            pointRadius: 3.2,
            pointBackgroundColor: "#000",
            pointBorderWidth: 0,
            pointHoverRadius: 3.2,
            showLine: false,
          },
          {
            data: p.line.map(([x, y]) => ({ x, y })),
            showLine: true,
            pointRadius: 0,
            borderColor: "#000",
            borderWidth: 1,
          },
        ],
      },
      options: {
        responsive: false,
        animation: false,
        devicePixelRatio: 1,
        events: [],
        layout: { padding: { left: 0, top: p.padT, right: p.padR, bottom: 0 } },
        plugins: { legend: { display: false }, tooltip: { enabled: false } },
        scales: {
          x: {
            type: "linear",
            min: 0,
            max: xMax,
            afterFit: (s: any) => { s.height = p.xH; },
            ticks: {
              stepSize: xTickStep,
              callback: (v: any) => Number(v).toFixed(1),
              font: { family: FONT, size: 11 },
              color: "#222",
              padding: 3,
              maxRotation: 0,
              autoSkip: false,
            },
            grid: { display: true, drawOnChartArea: false, drawTicks: true, tickLength: 4, color: "#000" },
            border: { display: true, color: "#000", width: 1 },
          },
          y: {
            type: "linear",
            min: 0,
            max: p.yMax,
            afterFit: (s: any) => { s.width = p.yW; },
            ticks: {
              stepSize: p.yStep,
              callback: (v: any, i: number) => (p.yLabels ? p.yLabels[i] : String(v)),
              font: { family: FONT, size: 11 },
              color: "#222",
              padding: 3,
              autoSkip: false,
            },
            grid: { display: true, drawOnChartArea: false, drawTicks: true, tickLength: 4, color: "#000" },
            border: { display: true, color: "#000", width: 1 },
          },
        },
      } as any,
      plugins: [makeDecor(p)],
    });
    return () => chart.destroy();
  }, [p]);
  return (
    <canvas
      ref={ref}
      width={p.cell.width}
      height={p.cell.height}
      style={{ position: "absolute", left: p.cell.left, top: p.cell.top, width: p.cell.width, height: p.cell.height }}
    />
  );
}

export default function App() {
  return (
    <div style={{ position: "absolute", left: 0, top: 0, width: 1055, height: 546, background: "#fff", overflow: "hidden" }}>
      {panels.map((p) => (
        <PanelChart key={p.letter} p={p} />
      ))}
    </div>
  );
}
